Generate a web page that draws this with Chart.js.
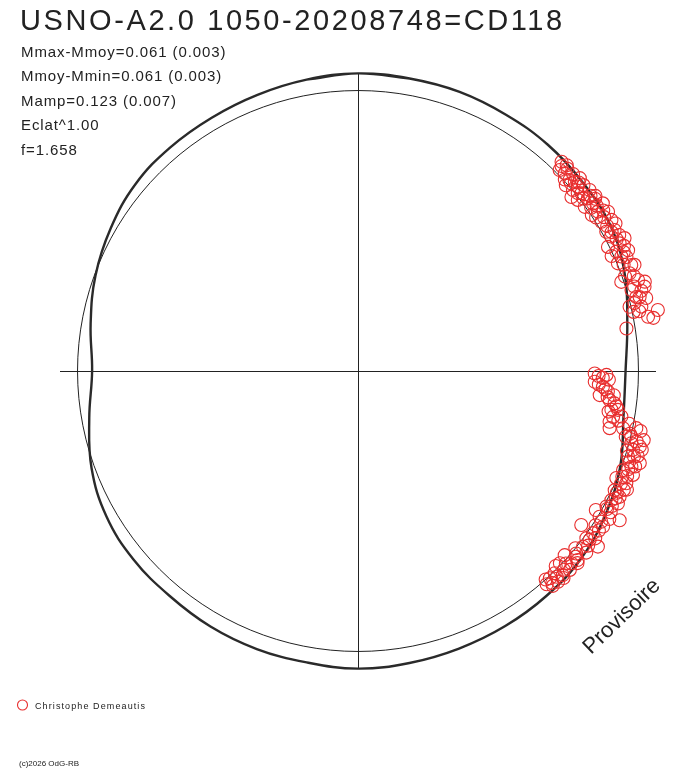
<!DOCTYPE html>
<html>
<head>
<meta charset="utf-8">
<title>USNO-A2.0 1050-20208748=CD118</title>
<style>
  html, body { margin: 0; padding: 0; background: #fff; }
  canvas { display: block; }
</style>
<script src="https://cdn.jsdelivr.net/npm/chart.js"></script>
</head>
<body>
<canvas id="polarChart" width="688" height="768" style="width:688px;height:768px"></canvas>
<script>
// ===== Texts =====
const chartTitle = 'USNO-A2.0 1050-20208748=CD118';
const statLines = [
  'Mmax-Mmoy=0.061 (0.003)',
  'Mmoy-Mmin=0.061 (0.003)',
  'Mamp=0.123 (0.007)',
  'Eclat^1.00',
  'f=1.658'
];
const observerName = 'Christophe Demeautis';
const stampText = 'Provisoire';
const copyrightText = '(c)2026 OdG-RB';

// ===== Data (angle = phase in degrees, clockwise from top; flux relative to mean) =====
const meanFlux = 1.0;
const axisLimit = 1.0625;

const modelAngle = [0, 10, 20, 30, 40, 50, 60, 70, 80, 90, 100, 110, 120, 130, 140, 150, 160, 170,
  180, 190, 200, 210, 220, 230, 240, 250, 260, 270, 280, 290, 300, 310, 320, 330, 340, 350];
const modelFlux = [1.061, 1.059, 1.059, 1.055, 1.053, 1.046, 1.039, 1.012, 0.975, 0.954, 0.961, 0.995,
  1.020, 1.039, 1.046, 1.050, 1.053, 1.057, 1.061, 1.055, 1.055, 1.052, 1.046, 1.045, 1.036, 1.011,
  0.973, 0.948, 0.968, 0.996, 1.018, 1.036, 1.041, 1.043, 1.048, 1.055];

const obsAngle = [44.2, 45.1, 46.3, 47.9, 48.9, 50.0, 49.9, 50.8, 51.5, 53.1, 54.1, 54.5, 55.6, 56.4,
  57.5, 58.5, 59.2, 61.2, 60.7, 63.5, 64.0, 63.6, 65.9, 66.5, 67.5, 69.0, 70.2, 71.3, 72.0, 72.7,
  73.5, 75.1, 73.6, 77.2, 79.4, 78.5, 76.7, 81.0,
  45.4, 49.0, 48.2, 52.0, 53.6, 52.1, 56.3, 61.3, 65.9, 65.6, 75.3, 77.9,
  44.8, 46.0, 47.2, 47.5, 48.6, 49.5, 50.5, 51.0, 52.6, 53.0, 54.0, 55.0, 55.3, 56.8, 57.2, 58.0,
  59.8, 60.2, 62.0, 62.5, 63.0, 64.8, 65.2, 67.0, 68.2, 68.8, 70.5, 71.0, 73.0, 74.2, 75.8, 76.2,
  78.0, 79.8,
  90.6, 90.9, 92.6, 93.7, 94.7, 95.7, 96.6, 97.2, 98.7, 98.5, 99.8, 100.2, 101.4, 102.8, 102.2,
  101.6, 103.5, 105.0, 106.0, 107.6, 108.1, 109.3, 110.5, 110.7, 112.5, 112.7, 114.9, 115.7, 117.0,
  118.6, 117.0, 119.7, 121.1, 122.4, 124.6, 124.6, 126.2, 126.2, 128.0, 129.9, 131.7, 132.0, 133.6,
  135.8, 134.9, 137.2, 136.5, 133.2,
  91.6, 95.4, 103.8, 103.6, 106.9, 114.1, 119.2, 120.3, 126.1, 130.7, 134.6, 138.5, 137.8,
  91.2, 92.0, 93.2, 94.2, 96.0, 97.8, 99.2, 100.8, 101.0, 102.0, 103.0, 104.2, 104.8, 105.5, 106.5,
  107.2, 108.5, 109.0, 110.0, 111.3, 111.8, 113.2, 113.8, 115.2, 116.3, 118.0, 119.0, 120.5, 121.8,
  123.0, 123.5, 125.2, 127.2, 128.5, 129.2, 130.5, 131.2, 132.8, 134.0, 135.2, 136.0, 137.5, 138.0];
const obsFlux = [1.041, 1.015, 1.020, 1.016, 1.026, 1.023, 1.002, 0.982, 1.018, 1.025, 0.998, 1.029,
  1.058, 1.027, 1.057, 1.018, 1.052, 1.044, 1.015, 1.062, 1.038, 0.995, 1.055, 1.024, 1.003, 1.056,
  1.029, 0.991, 1.050, 1.071, 1.017, 1.027, 1.065, 1.036, 1.052, 1.091, 0.995, 0.969,
  1.045, 1.048, 0.994, 1.048, 1.052, 0.993, 1.002, 1.031, 1.038, 0.993, 1.038, 1.005,
  1.030, 1.038, 1.005, 1.040, 1.012, 1.035, 1.042, 1.008, 1.012, 1.038, 1.045, 1.015, 1.035, 1.045,
  1.010, 1.035, 1.028, 1.058, 1.022, 1.050, 1.035, 1.048, 1.015, 1.040, 1.020, 1.045, 1.010, 1.040,
  1.030, 1.050, 1.060, 1.015, 1.025, 1.070,
  0.844, 0.886, 0.845, 0.875, 0.894, 0.866, 0.903, 0.922, 0.914, 0.937, 0.953, 0.924, 0.915, 0.920,
  0.967, 1.013, 1.002, 1.040, 1.020, 1.010, 1.057, 1.033, 1.009, 1.048, 0.997, 1.037, 1.009, 1.035,
  1.014, 1.009, 1.040, 1.074, 1.006, 1.035, 0.967, 1.018, 1.009, 1.060, 1.018, 1.014, 0.987, 1.024,
  0.994, 1.006, 1.031, 1.007, 1.036, 1.036,
  0.873, 0.916, 0.983, 1.048, 1.042, 1.038, 1.032, 0.982, 1.022, 1.033, 0.990, 1.015, 1.034,
  0.858, 0.895, 0.860, 0.885, 0.895, 0.930, 0.905, 0.945, 0.985, 1.030, 0.995, 1.025, 1.008, 1.050,
  1.000, 1.030, 1.020, 1.045, 1.025, 1.030, 1.015, 1.020, 1.048, 1.020, 1.025, 1.025, 1.015, 1.040,
  1.020, 1.010, 1.030, 1.035, 1.030, 1.040, 1.000, 1.020, 1.040, 1.010, 1.020, 1.040, 1.020, 1.025,
  1.000];

// polar (angle, flux) -> chart x/y
function toXY(angleDeg, flux) {
  const a = angleDeg * Math.PI / 180;
  return { x: flux * Math.sin(a), y: flux * Math.cos(a) };
}

const modelLoop = modelAngle.map((a, i) => toXY(a, modelFlux[i]));
// wrap one point on each side so the spline closes smoothly at phase 0
const modelPoints = [modelLoop[modelLoop.length - 1], ...modelLoop, modelLoop[0], modelLoop[1]];
const obsPoints = obsAngle.map((a, i) => toXY(a, obsFlux[i]));

const FONT = '"Liberation Sans", Arial, sans-serif';
const INK = '#222';
const RED = '#e82e2e';

// white background
const bgPlugin = {
  id: 'bg',
  beforeDraw(chart) {
    const ctx = chart.ctx;
    ctx.save();
    ctx.fillStyle = '#fff';
    ctx.fillRect(0, 0, chart.width, chart.height);
    ctx.restore();
  }
};

// mean-brightness circle, drawn from the scales
const meanCirclePlugin = {
  id: 'meanCircle',
  beforeDatasetsDraw(chart) {
    const { ctx, scales: { x, y } } = chart;
    const cx = x.getPixelForValue(0);
    const cy = y.getPixelForValue(0);
    const r = x.getPixelForValue(meanFlux) - cx;
    ctx.save();
    ctx.beginPath();
    ctx.arc(cx, cy, r, 0, Math.PI * 2);
    ctx.lineWidth = 1;
    ctx.strokeStyle = INK;
    ctx.stroke();
    ctx.restore();
  }
};

// titles, stats, legend, stamp
const textPlugin = {
  id: 'texts',
  afterDraw(chart) {
    const ctx = chart.ctx;
    ctx.save();
    ctx.fillStyle = INK;
    ctx.textBaseline = 'alphabetic';
    ctx.textAlign = 'left';

    ctx.font = '29px ' + FONT;
    ctx.letterSpacing = '2.6px';
    ctx.fillText(chartTitle, 20, 30);

    ctx.font = '15px ' + FONT;
    ctx.letterSpacing = '0.9px';
    statLines.forEach((t, i) => ctx.fillText(t, 21, 56.5 + i * 24.6));

    // legend
    ctx.beginPath();
    ctx.arc(22.5, 705, 5, 0, Math.PI * 2);
    ctx.strokeStyle = RED;
    ctx.lineWidth = 1.1;
    ctx.stroke();
    ctx.font = '9px ' + FONT;
    ctx.letterSpacing = '1.1px';
    ctx.fillText(observerName, 35, 709);

    ctx.font = '8px ' + FONT;
    ctx.letterSpacing = '0px';
    ctx.fillText(copyrightText, 19, 766);

    ctx.save();
    ctx.translate(591, 655);
    ctx.rotate(-44 * Math.PI / 180);
    ctx.font = '22px ' + FONT;
    ctx.letterSpacing = '0px';
    ctx.fillText(stampText, 0, 0);
    ctx.restore();

    ctx.restore();
  }
};

const axisGrid = {
  color: (c) => (c.tick && c.tick.value === 0 ? INK : 'rgba(0,0,0,0)'),
  lineWidth: 1,
  drawTicks: false
};

new Chart(document.getElementById('polarChart'), {
  type: 'scatter',
  data: {
    datasets: [
      {
        label: observerName,
        data: obsPoints,
        pointStyle: 'circle',
        pointRadius: 6.5,
        pointBorderWidth: 1.1,
        pointBackgroundColor: 'rgba(0,0,0,0)',
        pointBorderColor: RED,
        clip: false,
        order: 0
      },
      {
        label: 'model',
        data: modelPoints,
        showLine: true,
        tension: 0.4,
        pointRadius: 0,
        borderColor: '#2a2a2a',
        borderWidth: 2.4,
        clip: false,
        order: 1
      }
    ]
  },
  options: {
    responsive: false,
    animation: false,
    devicePixelRatio: 1,
    events: [],
    layout: { padding: { left: 60, right: 32, top: 73, bottom: 99 } },
    plugins: {
      legend: { display: false },
      tooltip: { enabled: false },
      title: { display: false }
    },
    scales: {
      x: {
        type: 'linear',
        min: -axisLimit,
        max: axisLimit,
        ticks: { display: false, stepSize: 0.5 },
        grid: axisGrid,
        border: { display: false }
      },
      y: {
        type: 'linear',
        min: -axisLimit,
        max: axisLimit,
        ticks: { display: false, stepSize: 0.5 },
        grid: axisGrid,
        border: { display: false }
      }
    }
  },
  plugins: [bgPlugin, meanCirclePlugin, textPlugin]
});
</script>
</body>
</html>
